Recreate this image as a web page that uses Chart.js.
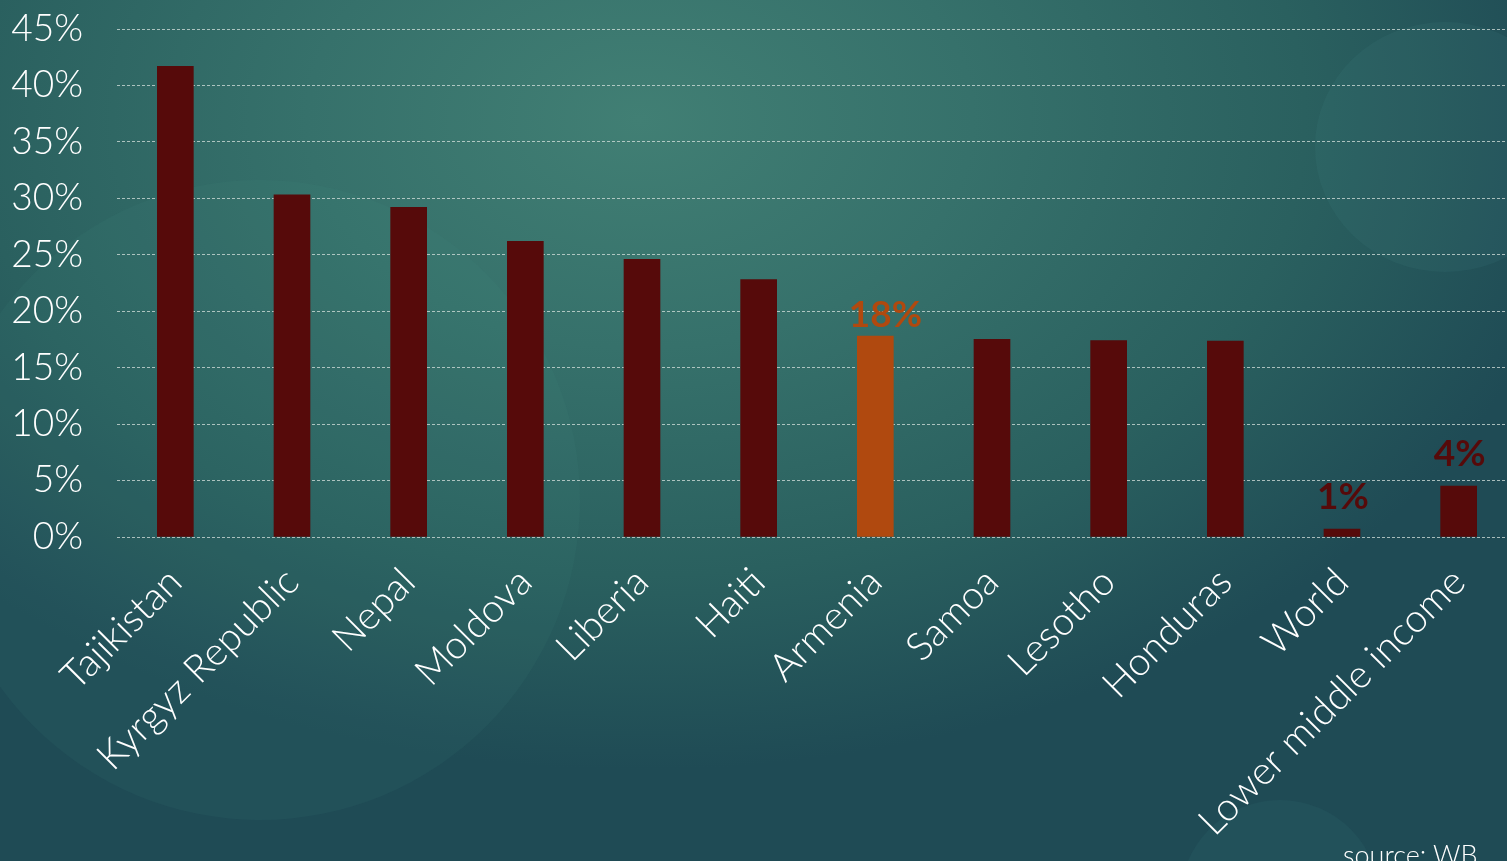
<!DOCTYPE html>
<html lang="en">
<head>
    <meta charset="UTF-8">
    <title>Remittances share of GDP</title>
    <style>
        html, body {
            margin: 0;
            padding: 0;
            width: 1507px;
            height: 861px;
            overflow: hidden;
        }
        body {
            position: relative;
            background: radial-gradient(ellipse 950px 650px at 640px 120px, #417f74 0%, #36716b 35%, #2a605f 70%, #1f4b55 100%);
            font-family: 'Lato', 'Open Sans', sans-serif;
        }
        .circle {
            position: absolute;
            border-radius: 50%;
        }
        .c1 {
            left: -60px; top: 180px; width: 640px; height: 640px;
            background: rgba(80, 150, 145, 0.08);
        }
        .c2 {
            left: 1315px; top: 22px; width: 260px; height: 250px;
            background: rgba(80, 150, 150, 0.10);
        }
        .c3 {
            left: 1180px; top: 800px; width: 200px; height: 200px;
            background: rgba(80, 150, 150, 0.08);
        }
        .chart-box {
            position: absolute;
            left: 0;
            top: 0;
            width: 1517px;
            height: 861px;
        }
        .source {
            position: absolute;
            left: 1343px;
            top: 838px;
            color: #ffffff;
            font-size: 27px;
            font-weight: 300;
        }
    </style>
    <script src="https://cdn.jsdelivr.net/npm/chart.js"></script>
</head>
<body>
    <div class="circle c1"></div>
    <div class="circle c2"></div>
    <div class="circle c3"></div>
    <div class="chart-box">
        <canvas id="chart" width="1517" height="861"></canvas>
    </div>
    <div class="source">source: WB</div>

    <script>
        // datos
        const countries = ['Tajikistan', 'Kyrgyz Republic', 'Nepal', 'Moldova', 'Liberia', 'Haiti',
            'Armenia', 'Samoa', 'Lesotho', 'Honduras', 'World', 'Lower middle income'];
        const shares = [41.7, 30.3, 29.2, 26.2, 24.6, 22.8, 17.8, 17.5, 17.4, 17.35, 0.7, 4.5];
        const valueLabels = ['', '', '', '', '', '', '18%', '', '', '', '1%', '4%'];
        const yTicks = [0, 5, 10, 15, 20, 25, 30, 35, 40, 45];

        const darkRed = '#560a0a';
        const orange = '#b0490f';
        const barColors = countries.map(c => c === 'Armenia' ? orange : darkRed);

        // etiquetas de valor encima de algunas barras
        const valueLabelPlugin = {
            id: 'valueLabels',
            afterDatasetsDraw(chart) {
                const ctx = chart.ctx;
                const meta = chart.getDatasetMeta(0);
                ctx.save();
                ctx.font = 'bold 37px Lato, "Open Sans", sans-serif';
                ctx.textAlign = 'center';
                ctx.textBaseline = 'bottom';
                meta.data.forEach((bar, i) => {
                    if (!valueLabels[i]) return;
                    ctx.fillStyle = barColors[i];
                    // la etiqueta resaltada va pegada a la barra, las otras un poco mas arriba
                    const highlighted = barColors[i] === orange;
                    const dx = highlighted ? 10 : 1;
                    const dy = highlighted ? 2 : 14;
                    ctx.fillText(valueLabels[i], bar.x + dx, bar.y - dy);
                });
                ctx.restore();
            }
        };

        new Chart(document.getElementById('chart').getContext('2d'), {
            type: 'bar',
            data: {
                labels: countries,
                datasets: [{
                    data: shares,
                    backgroundColor: barColors,
                    barThickness: 36
                }]
            },
            options: {
                responsive: false,
                animation: false,
                layout: {
                    padding: { top: 29, right: 0, left: 0, bottom: 0 }
                },
                plugins: {
                    legend: { display: false },
                    tooltip: { enabled: false }
                },
                scales: {
                    y: {
                        min: 0,
                        max: 45,
                        afterBuildTicks: axis => {
                            axis.ticks = yTicks.map(v => ({ value: v }));
                        },
                        afterFit: axis => {
                            axis.width = 117;
                            // el padding de los ticks no debe empujar el area del grafico
                            axis.paddingTop = 0;
                            axis.paddingBottom = 0;
                        },
                        ticks: {
                            color: '#ffffff',
                            padding: 34,
                            font: { family: 'Lato, "Open Sans", sans-serif', size: 37, weight: 300 },
                            callback: v => v + '%'
                        },
                        grid: {
                            color: 'rgba(215, 225, 222, 0.75)',
                            lineWidth: 1,
                            drawTicks: false
                        },
                        border: {
                            display: false,
                            dash: [3, 2]
                        }
                    },
                    x: {
                        afterFit: axis => {
                            axis.height = 324;
                        },
                        ticks: {
                            color: '#ffffff',
                            minRotation: 45,
                            maxRotation: 45,
                            autoSkip: false,
                            padding: 14,
                            font: { family: 'Lato, "Open Sans", sans-serif', size: 39, weight: 300 }
                        },
                        grid: { display: false },
                        border: { display: false }
                    }
                }
            },
            plugins: [valueLabelPlugin]
        });
    </script>
</body>
</html>
